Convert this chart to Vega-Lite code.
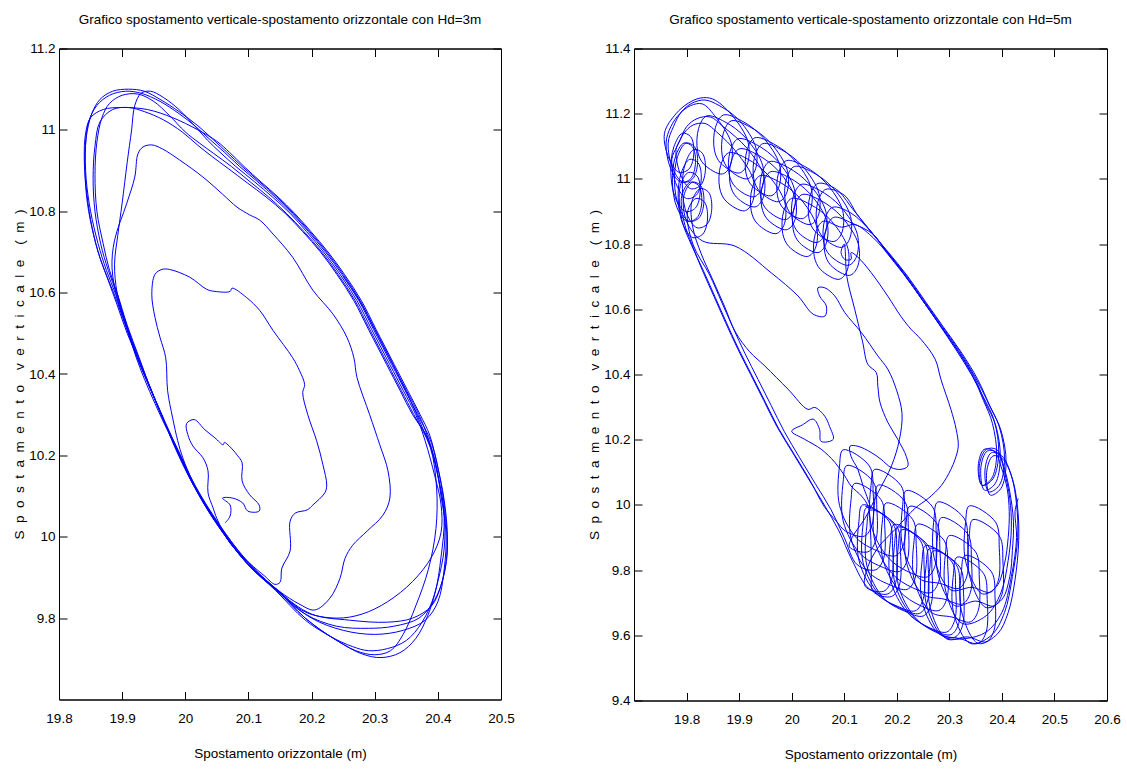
{
  "$schema": "https://vega.github.io/schema/vega-lite/v6.json",
  "background": "white",
  "padding": {"left": 12, "top": 12.5, "right": 0, "bottom": 0},
  "spacing": 133,
  "bounds": "flush",
  "config": {
    "view": {"stroke": "black", "strokeWidth": 1},
    "font": "Liberation Sans, Arial, sans-serif",
    "axis": {
      "domainColor": "black", "tickColor": "black", "labelColor": "black", "titleColor": "black",
      "labelFont": "Liberation Sans, Arial, sans-serif",
      "titleFont": "Liberation Sans, Arial, sans-serif",
      "labelFontSize": 13.5, "titleFontSize": 13.5, "titleFontWeight": "normal",
      "grid": false, "tickSize": -8, "labelFlush": false, "labelOverlap": false
    },
    "title": {"font": "Liberation Sans, Arial, sans-serif", "fontSize": 13.5, "fontWeight": "normal", "color": "black", "offset": 15}
  },
  "datasets": {
    "hd3": [
      {"x":20.063,"y":10.034},{"x":20.071,"y":10.051},{"x":20.071,"y":10.078},{"x":20.059,"y":10.095},{"x":20.075,"y":10.095},{"x":20.091,"y":10.083},{"x":20.099,"y":10.063},{"x":20.117,"y":10.063},{"x":20.117,"y":10.078},{"x":20.102,"y":10.103},{"x":20.090,"y":10.137},{"x":20.090,"y":10.182},{"x":20.083,"y":10.199},{"x":20.074,"y":10.216},{"x":20.066,"y":10.228},{"x":20.062,"y":10.232},{"x":20.060,"y":10.226},{"x":20.047,"y":10.243},{"x":20.031,"y":10.263},{"x":20.014,"y":10.288},{"x":20.002,"y":10.278},{"x":20.004,"y":10.251},{"x":20.012,"y":10.223},{"x":20.028,"y":10.194},{"x":20.036,"y":10.162},{"x":20.036,"y":10.108},{"x":20.044,"y":10.071},{"x":20.050,"y":10.045},
      {"x":20.071,"y":9.984},{"x":20.102,"y":9.935},{"x":20.126,"y":9.903},{"x":20.142,"y":9.883},{"x":20.150,"y":9.888},
      {"x":20.153,"y":9.923},{"x":20.166,"y":9.965},{"x":20.166,"y":10.038},{"x":20.174,"y":10.058},{"x":20.193,"y":10.066},{"x":20.202,"y":10.078},{"x":20.221,"y":10.108},{"x":20.224,"y":10.127},{"x":20.218,"y":10.177},{"x":20.208,"y":10.236},{"x":20.194,"y":10.300},{"x":20.186,"y":10.354},{"x":20.189,"y":10.374},{"x":20.181,"y":10.408},{"x":20.170,"y":10.440},{"x":20.139,"y":10.507},{"x":20.118,"y":10.556},{"x":20.097,"y":10.588},{"x":20.074,"y":10.611},{"x":20.071,"y":10.603},{"x":20.047,"y":10.603},{"x":20.034,"y":10.608},{"x":20.007,"y":10.638},{"x":19.975,"y":10.657},{"x":19.963,"y":10.657},{"x":19.952,"y":10.645},{"x":19.947,"y":10.596},{"x":19.952,"y":10.539},{"x":19.960,"y":10.490},{"x":19.969,"y":10.440},{"x":19.972,"y":10.359},{"x":19.980,"y":10.292},{"x":19.988,"y":10.236},{"x":19.996,"y":10.194},
      {"x":20.012,"y":10.135},{"x":20.035,"y":10.070},{"x":20.060,"y":10.015},{"x":20.090,"y":9.955},{"x":20.120,"y":9.905},{"x":20.150,"y":9.865},{"x":20.180,"y":9.835},{"x":20.205,"y":9.820},
      {"x":20.229,"y":9.849},{"x":20.245,"y":9.898},{"x":20.253,"y":9.947},{"x":20.265,"y":9.979},{"x":20.288,"y":10.014},{"x":20.313,"y":10.053},{"x":20.324,"y":10.095},{"x":20.321,"y":10.162},{"x":20.308,"y":10.226},{"x":20.292,"y":10.300},{"x":20.272,"y":10.391},{"x":20.267,"y":10.440},{"x":20.256,"y":10.490},{"x":20.234,"y":10.547},{"x":20.202,"y":10.606},{"x":20.170,"y":10.687},{"x":20.139,"y":10.744},{"x":20.118,"y":10.778},{"x":20.102,"y":10.791},{"x":20.082,"y":10.810},{"x":20.059,"y":10.842},{"x":20.028,"y":10.884},{"x":19.991,"y":10.926},{"x":19.964,"y":10.953},{"x":19.947,"y":10.963},{"x":19.933,"y":10.958},{"x":19.925,"y":10.941},{"x":19.920,"y":10.884},{"x":19.907,"y":10.818},{"x":19.888,"y":10.729},{"x":19.884,"y":10.660},{"x":19.893,"y":10.580},{"x":19.907,"y":10.514},{"x":19.928,"y":10.416},{"x":19.960,"y":10.300},
      {"x":19.985,"y":10.22},{"x":20.012,"y":10.13},{"x":20.05,"y":10.035},{"x":20.098,"y":9.935},{"x":20.145,"y":9.87},
      {"x":20.19,"y":9.80},{"x":20.24,"y":9.745},{"x":20.28,"y":9.712},{"x":20.31,"y":9.703},{"x":20.34,"y":9.715},{"x":20.365,"y":9.75},{"x":20.385,"y":9.81},{"x":20.40,"y":9.89},{"x":20.41,"y":9.97},{"x":20.41,"y":10.06},{"x":20.40,"y":10.15},{"x":20.385,"y":10.24},
      {"x":20.37,"y":10.30},{"x":20.35,"y":10.36},{"x":20.329,"y":10.423},{"x":20.30,"y":10.51},{"x":20.277,"y":10.58},{"x":20.25,"y":10.645},{"x":20.224,"y":10.70},{"x":20.197,"y":10.75},{"x":20.171,"y":10.795},{"x":20.145,"y":10.835},{"x":20.118,"y":10.872},{"x":20.09,"y":10.91},{"x":20.066,"y":10.945},{"x":20.045,"y":10.975},
      {"x":20.02,"y":11.01},{"x":19.99,"y":11.045},{"x":19.96,"y":11.075},{"x":19.935,"y":11.095},{"x":19.91,"y":11.10},{"x":19.885,"y":11.095},{"x":19.865,"y":11.075},{"x":19.852,"y":11.04},{"x":19.843,"y":10.98},{"x":19.841,"y":10.90},{"x":19.845,"y":10.82},{"x":19.855,"y":10.74},{"x":19.866,"y":10.68},
      {"x":19.878,"y":10.63},{"x":19.892,"y":10.57},{"x":19.908,"y":10.50},{"x":19.927,"y":10.43},{"x":19.945,"y":10.365},{"x":19.962,"y":10.30},
      {"x":19.988,"y":10.215},{"x":20.016,"y":10.125},{"x":20.054,"y":10.03},{"x":20.10,"y":9.935},{"x":20.147,"y":9.868},
      {"x":20.19,"y":9.815},{"x":20.24,"y":9.80},{"x":20.28,"y":9.81},{"x":20.32,"y":9.84},{"x":20.36,"y":9.89},{"x":20.39,"y":9.95},{"x":20.405,"y":10.01},{"x":20.405,"y":10.08},{"x":20.395,"y":10.15},{"x":20.38,"y":10.235},
      {"x":20.365,"y":10.30},{"x":20.345,"y":10.36},{"x":20.324,"y":10.423},{"x":20.295,"y":10.51},{"x":20.272,"y":10.58},{"x":20.245,"y":10.645},{"x":20.219,"y":10.70},{"x":20.192,"y":10.75},{"x":20.166,"y":10.795},{"x":20.138,"y":10.835},{"x":20.11,"y":10.872},{"x":20.08,"y":10.91},{"x":20.055,"y":10.945},{"x":20.035,"y":10.975},
      {"x":20.012,"y":11.015},{"x":19.99,"y":11.05},{"x":19.965,"y":11.08},{"x":19.945,"y":11.095},{"x":19.93,"y":11.09},{"x":19.92,"y":11.06},{"x":19.915,"y":11.0},{"x":19.908,"y":10.92},{"x":19.9,"y":10.82},{"x":19.893,"y":10.74},{"x":19.888,"y":10.67},
      {"x":19.892,"y":10.60},{"x":19.905,"y":10.53},{"x":19.922,"y":10.45},{"x":19.94,"y":10.38},{"x":19.96,"y":10.31},
      {"x":19.982,"y":10.225},{"x":20.01,"y":10.135},{"x":20.046,"y":10.04},{"x":20.095,"y":9.94},{"x":20.142,"y":9.872},
      {"x":20.19,"y":9.81},{"x":20.24,"y":9.78},{"x":20.29,"y":9.775},{"x":20.33,"y":9.78},{"x":20.37,"y":9.80},{"x":20.395,"y":9.845},{"x":20.41,"y":9.91},{"x":20.415,"y":10.0},{"x":20.41,"y":10.09},{"x":20.40,"y":10.17},{"x":20.387,"y":10.25},
      {"x":20.372,"y":10.30},{"x":20.352,"y":10.36},{"x":20.331,"y":10.423},{"x":20.302,"y":10.51},{"x":20.279,"y":10.58},{"x":20.252,"y":10.645},{"x":20.226,"y":10.70},{"x":20.199,"y":10.75},{"x":20.173,"y":10.795},{"x":20.147,"y":10.835},{"x":20.12,"y":10.872},{"x":20.093,"y":10.91},{"x":20.07,"y":10.945},{"x":20.05,"y":10.972},
      {"x":20.02,"y":11.00},{"x":19.98,"y":11.03},{"x":19.94,"y":11.05},{"x":19.90,"y":11.055},{"x":19.87,"y":11.05},{"x":19.85,"y":11.03},{"x":19.842,"y":10.99},{"x":19.84,"y":10.93},{"x":19.843,"y":10.86},{"x":19.85,"y":10.78},{"x":19.862,"y":10.70},
      {"x":19.876,"y":10.64},{"x":19.889,"y":10.59},{"x":19.905,"y":10.52},{"x":19.925,"y":10.435},{"x":19.945,"y":10.362},{"x":19.962,"y":10.30},
      {"x":19.984,"y":10.222},{"x":20.013,"y":10.13},{"x":20.05,"y":10.033},{"x":20.097,"y":9.935},{"x":20.143,"y":9.868},
      {"x":20.19,"y":9.795},{"x":20.235,"y":9.75},{"x":20.27,"y":9.72},{"x":20.30,"y":9.71},{"x":20.325,"y":9.72},{"x":20.345,"y":9.76},{"x":20.365,"y":9.83},{"x":20.385,"y":9.92},{"x":20.397,"y":10.02},{"x":20.398,"y":10.12},{"x":20.388,"y":10.22},
      {"x":20.362,"y":10.30},{"x":20.342,"y":10.36},{"x":20.321,"y":10.423},{"x":20.292,"y":10.51},{"x":20.269,"y":10.58},{"x":20.242,"y":10.645},{"x":20.216,"y":10.70},{"x":20.188,"y":10.75},{"x":20.16,"y":10.795},{"x":20.132,"y":10.835},{"x":20.103,"y":10.872},{"x":20.073,"y":10.91},{"x":20.045,"y":10.942},{"x":20.022,"y":10.968},
      {"x":20.0,"y":10.995},{"x":19.975,"y":11.035},{"x":19.95,"y":11.07},{"x":19.925,"y":11.088},{"x":19.90,"y":11.085},{"x":19.88,"y":11.065},{"x":19.868,"y":11.03},{"x":19.86,"y":10.97},{"x":19.857,"y":10.89},{"x":19.86,"y":10.80},{"x":19.87,"y":10.72},
      {"x":19.88,"y":10.655},{"x":19.893,"y":10.595},{"x":19.908,"y":10.52},{"x":19.927,"y":10.44},{"x":19.946,"y":10.36},{"x":19.963,"y":10.30},
      {"x":19.986,"y":10.22},{"x":20.014,"y":10.128},{"x":20.052,"y":10.032},{"x":20.099,"y":9.934},{"x":20.146,"y":9.867},
      {"x":20.20,"y":9.81},{"x":20.26,"y":9.795},{"x":20.32,"y":9.79},{"x":20.36,"y":9.80},{"x":20.39,"y":9.83},{"x":20.405,"y":9.88},{"x":20.415,"y":9.96},{"x":20.412,"y":10.05},{"x":20.405,"y":10.13},{"x":20.39,"y":10.23},
      {"x":20.368,"y":10.30},{"x":20.348,"y":10.36},{"x":20.327,"y":10.423},{"x":20.298,"y":10.51},{"x":20.275,"y":10.58},{"x":20.248,"y":10.645},{"x":20.222,"y":10.70},{"x":20.195,"y":10.75},{"x":20.169,"y":10.795},{"x":20.142,"y":10.835},{"x":20.115,"y":10.872},{"x":20.086,"y":10.91},{"x":20.062,"y":10.945},{"x":20.04,"y":10.975},
      {"x":20.015,"y":11.01},{"x":19.99,"y":11.04},{"x":19.96,"y":11.07},{"x":19.93,"y":11.09},{"x":19.905,"y":11.095},{"x":19.88,"y":11.085},{"x":19.86,"y":11.06},{"x":19.847,"y":11.02},{"x":19.842,"y":10.96},{"x":19.843,"y":10.88},{"x":19.85,"y":10.80},{"x":19.862,"y":10.72},
      {"x":19.875,"y":10.655},{"x":19.89,"y":10.595},{"x":19.906,"y":10.52},{"x":19.926,"y":10.435},{"x":19.946,"y":10.36},{"x":19.962,"y":10.30},
      {"x":19.983,"y":10.225},{"x":20.011,"y":10.133},{"x":20.048,"y":10.036},{"x":20.096,"y":9.938},{"x":20.144,"y":9.87},
      {"x":20.19,"y":9.80},{"x":20.23,"y":9.755},{"x":20.265,"y":9.73},{"x":20.29,"y":9.72},{"x":20.32,"y":9.725},{"x":20.35,"y":9.745},{"x":20.375,"y":9.79},{"x":20.395,"y":9.86},{"x":20.405,"y":9.95},{"x":20.41,"y":10.05},{"x":20.40,"y":10.15},{"x":20.385,"y":10.24},
      {"x":20.36,"y":10.30},{"x":20.34,"y":10.36},{"x":20.319,"y":10.423},{"x":20.29,"y":10.51},{"x":20.267,"y":10.58},{"x":20.24,"y":10.645},{"x":20.214,"y":10.70},{"x":20.186,"y":10.75},{"x":20.158,"y":10.795},{"x":20.128,"y":10.835},{"x":20.098,"y":10.87},{"x":20.068,"y":10.905},{"x":20.042,"y":10.935},{"x":20.02,"y":10.962},
      {"x":19.995,"y":10.995},{"x":19.965,"y":11.025},{"x":19.935,"y":11.045},{"x":19.91,"y":11.055},{"x":19.885,"y":11.05},{"x":19.865,"y":11.02},{"x":19.857,"y":10.96},{"x":19.854,"y":10.88},{"x":19.857,"y":10.80},{"x":19.866,"y":10.72},
      {"x":19.878,"y":10.655},{"x":19.892,"y":10.595},{"x":19.907,"y":10.52},{"x":19.926,"y":10.44},{"x":19.945,"y":10.365},{"x":19.962,"y":10.30},
      {"x":19.985,"y":10.22},{"x":20.013,"y":10.128},{"x":20.051,"y":10.03},{"x":20.099,"y":9.932},{"x":20.147,"y":9.865},
      {"x":20.2,"y":9.80},{"x":20.25,"y":9.77},{"x":20.30,"y":9.76},{"x":20.345,"y":9.77},{"x":20.38,"y":9.795},{"x":20.40,"y":9.84},{"x":20.41,"y":9.92},{"x":20.413,"y":10.01},{"x":20.405,"y":10.10},{"x":20.395,"y":10.19},
      {"x":20.375,"y":10.27},{"x":20.355,"y":10.34},{"x":20.33,"y":10.42},{"x":20.30,"y":10.51},{"x":20.278,"y":10.575},{"x":20.25,"y":10.64}
    ],
    "hd5": [
      {"x":20.140,"y":9.996},{"x":20.149,"y":9.993},{"x":20.145,"y":10.017},{"x":20.136,"y":10.057},{"x":20.126,"y":10.109},{"x":20.113,"y":10.149},{"x":20.111,"y":10.180},{"x":20.126,"y":10.180},{"x":20.151,"y":10.161},{"x":20.170,"y":10.140},{"x":20.189,"y":10.115},{"x":20.208,"y":10.109},{"x":20.221,"y":10.119},{"x":20.218,"y":10.149},{"x":20.202,"y":10.201},{"x":20.183,"y":10.253},{"x":20.168,"y":10.315},{"x":20.164,"y":10.364},{"x":20.161,"y":10.406},{"x":20.145,"y":10.431},
      {"x":20.135,"y":10.50},{"x":20.12,"y":10.60},{"x":20.105,"y":10.70},{"x":20.10,"y":10.80},
      {"x":20.094,"y":10.774},{"x":20.101,"y":10.753},{"x":20.113,"y":10.753},{"x":20.113,"y":10.774},{"x":20.126,"y":10.76},{"x":20.151,"y":10.713},{"x":20.183,"y":10.64},{"x":20.208,"y":10.578},{"x":20.227,"y":10.539},{"x":20.246,"y":10.508},{"x":20.273,"y":10.447},{"x":20.284,"y":10.385},{"x":20.303,"y":10.293},{"x":20.313,"y":10.232},{"x":20.317,"y":10.18},{"x":20.311,"y":10.14},{"x":20.303,"y":10.109},{"x":20.285,"y":10.06},{"x":20.26,"y":10.02},{"x":20.235,"y":9.99},{"x":20.20,"y":9.93},{"x":20.165,"y":9.87},{"x":20.145,"y":9.81},

      {"x":20.140,"y":9.750},{"x":20.175,"y":9.735},{"x":20.190,"y":9.770},{"x":20.192,"y":9.870},{"x":20.185,"y":9.950},{"x":20.135,"y":10.000},{"x":20.128,"y":9.950},{"x":20.128,"y":9.830},{"x":20.160,"y":9.730},
      {"x":20.200,"y":9.690},{"x":20.235,"y":9.675},{"x":20.250,"y":9.710},{"x":20.252,"y":9.810},{"x":20.245,"y":9.890},{"x":20.195,"y":9.940},{"x":20.188,"y":9.890},{"x":20.188,"y":9.770},{"x":20.220,"y":9.670},
      {"x":20.260,"y":9.625},{"x":20.295,"y":9.610},{"x":20.310,"y":9.645},{"x":20.312,"y":9.745},{"x":20.305,"y":9.825},{"x":20.255,"y":9.875},{"x":20.248,"y":9.825},{"x":20.248,"y":9.705},{"x":20.280,"y":9.605},
      {"x":20.320,"y":9.590},{"x":20.355,"y":9.575},{"x":20.370,"y":9.610},{"x":20.372,"y":9.710},{"x":20.365,"y":9.790},{"x":20.315,"y":9.840},{"x":20.308,"y":9.790},{"x":20.308,"y":9.670},{"x":20.340,"y":9.575},
      {"x":20.38,"y":9.60},{"x":20.405,"y":9.67},{"x":20.42,"y":9.78},{"x":20.43,"y":9.90},{"x":20.428,"y":10.0},{"x":20.418,"y":10.09},{"x":20.40,"y":10.15},{"x":20.38,"y":10.16},{"x":20.368,"y":10.11},{"x":20.375,"y":10.04},{"x":20.395,"y":10.06},{"x":20.405,"y":10.14},{"x":20.395,"y":10.24},{"x":20.375,"y":10.31},
      {"x":20.35,"y":10.39},{"x":20.32,"y":10.47},{"x":20.285,"y":10.55},{"x":20.25,"y":10.63},{"x":20.215,"y":10.71},{"x":20.18,"y":10.78},{"x":20.15,"y":10.84},{"x":20.125,"y":10.89},
      {"x":20.100,"y":10.950},{"x":20.065,"y":10.968},{"x":20.050,"y":10.930},{"x":20.048,"y":10.860},{"x":20.060,"y":10.820},{"x":20.095,"y":10.790},{"x":20.110,"y":10.815},{"x":20.112,"y":10.885},{"x":20.080,"y":10.970},
      {"x":20.040,"y":11.020},{"x":20.005,"y":11.038},{"x":19.990,"y":11.000},{"x":19.988,"y":10.930},{"x":20.000,"y":10.890},{"x":20.035,"y":10.860},{"x":20.050,"y":10.885},{"x":20.052,"y":10.955},{"x":20.020,"y":11.040},
      {"x":19.980,"y":11.090},{"x":19.945,"y":11.108},{"x":19.930,"y":11.070},{"x":19.928,"y":11.000},{"x":19.940,"y":10.960},{"x":19.975,"y":10.930},{"x":19.990,"y":10.955},{"x":19.992,"y":11.025},{"x":19.960,"y":11.110},
      {"x":19.920,"y":11.160},{"x":19.885,"y":11.178},{"x":19.870,"y":11.140},{"x":19.868,"y":11.070},{"x":19.880,"y":11.030},{"x":19.915,"y":11.000},{"x":19.930,"y":11.025},{"x":19.932,"y":11.095},{"x":19.900,"y":11.180},
      {"x":19.862,"y":11.225},{"x":19.835,"y":11.242},{"x":19.81,"y":11.232},{"x":19.79,"y":11.205},{"x":19.775,"y":11.16},
      {"x":19.765,"y":11.11},{"x":19.774,"y":11.031},{"x":19.793,"y":10.99},{"x":19.812,"y":11.001},{"x":19.821,"y":11.05},{"x":19.815,"y":11.099},{"x":19.799,"y":11.11},{"x":19.783,"y":11.069},
      {"x":19.777,"y":10.99},{"x":19.786,"y":10.911},{"x":19.805,"y":10.87},{"x":19.824,"y":10.881},{"x":19.833,"y":10.93},{"x":19.827,"y":10.979},{"x":19.811,"y":10.99},{"x":19.795,"y":10.949},
      {"x":19.80,"y":10.87},{"x":19.83,"y":10.81},{"x":19.892,"y":10.794},{"x":19.961,"y":10.712},{"x":20.012,"y":10.641},{"x":20.041,"y":10.585},{"x":20.063,"y":10.579},{"x":20.066,"y":10.61},{"x":20.053,"y":10.641},{"x":20.05,"y":10.666},{"x":20.063,"y":10.666},{"x":20.082,"y":10.641},{"x":20.101,"y":10.59},{"x":20.133,"y":10.528},{"x":20.164,"y":10.457},{"x":20.183,"y":10.416},{"x":20.20,"y":10.35},{"x":20.21,"y":10.28},{"x":20.205,"y":10.20},{"x":20.19,"y":10.12},{"x":20.165,"y":10.04},{"x":20.14,"y":9.96},{"x":20.115,"y":9.90},

      {"x":20.110,"y":9.871},{"x":20.145,"y":9.856},{"x":20.160,"y":9.891},{"x":20.162,"y":9.991},{"x":20.155,"y":10.071},{"x":20.105,"y":10.121},{"x":20.098,"y":10.071},{"x":20.098,"y":9.951},{"x":20.130,"y":9.851},
      {"x":20.170,"y":9.811},{"x":20.205,"y":9.796},{"x":20.220,"y":9.831},{"x":20.222,"y":9.931},{"x":20.215,"y":10.011},{"x":20.165,"y":10.061},{"x":20.158,"y":10.011},{"x":20.158,"y":9.891},{"x":20.190,"y":9.791},
      {"x":20.230,"y":9.746},{"x":20.265,"y":9.731},{"x":20.280,"y":9.766},{"x":20.282,"y":9.866},{"x":20.275,"y":9.946},{"x":20.225,"y":9.996},{"x":20.218,"y":9.946},{"x":20.218,"y":9.826},{"x":20.250,"y":9.726},
      {"x":20.290,"y":9.711},{"x":20.325,"y":9.696},{"x":20.340,"y":9.731},{"x":20.342,"y":9.831},{"x":20.335,"y":9.911},{"x":20.285,"y":9.961},{"x":20.278,"y":9.911},{"x":20.278,"y":9.791},{"x":20.310,"y":9.691},
      {"x":20.350,"y":9.705},{"x":20.385,"y":9.690},{"x":20.400,"y":9.725},{"x":20.402,"y":9.825},{"x":20.395,"y":9.905},{"x":20.345,"y":9.955},{"x":20.338,"y":9.905},{"x":20.338,"y":9.785},{"x":20.370,"y":9.685},
      {"x":20.40,"y":9.71},{"x":20.415,"y":9.78},{"x":20.42,"y":9.86},{"x":20.422,"y":9.95},{"x":20.415,"y":10.04},{"x":20.405,"y":10.11},{"x":20.39,"y":10.17},{"x":20.37,"y":10.17},{"x":20.357,"y":10.12},{"x":20.363,"y":10.06},{"x":20.383,"y":10.08},{"x":20.394,"y":10.16},{"x":20.385,"y":10.26},{"x":20.365,"y":10.33},
      {"x":20.342,"y":10.40},{"x":20.313,"y":10.475},{"x":20.28,"y":10.555},{"x":20.246,"y":10.635},{"x":20.212,"y":10.71},{"x":20.18,"y":10.775},{"x":20.155,"y":10.83},
      {"x":20.115,"y":10.864},{"x":20.080,"y":10.882},{"x":20.065,"y":10.844},{"x":20.063,"y":10.774},{"x":20.075,"y":10.734},{"x":20.110,"y":10.704},{"x":20.125,"y":10.729},{"x":20.127,"y":10.799},{"x":20.095,"y":10.884},
      {"x":20.055,"y":10.934},{"x":20.020,"y":10.952},{"x":20.005,"y":10.914},{"x":20.003,"y":10.844},{"x":20.015,"y":10.804},{"x":20.050,"y":10.774},{"x":20.065,"y":10.799},{"x":20.067,"y":10.869},{"x":20.035,"y":10.954},
      {"x":19.995,"y":11.004},{"x":19.960,"y":11.022},{"x":19.945,"y":10.984},{"x":19.943,"y":10.914},{"x":19.955,"y":10.874},{"x":19.990,"y":10.844},{"x":20.005,"y":10.869},{"x":20.007,"y":10.939},{"x":19.975,"y":11.024},
      {"x":19.935,"y":11.074},{"x":19.900,"y":11.092},{"x":19.885,"y":11.054},{"x":19.883,"y":10.984},{"x":19.895,"y":10.944},{"x":19.930,"y":10.914},{"x":19.945,"y":10.939},{"x":19.947,"y":11.009},{"x":19.915,"y":11.094},
      {"x":19.87,"y":11.16},{"x":19.845,"y":11.19},{"x":19.82,"y":11.185},{"x":19.80,"y":11.16},{"x":19.788,"y":11.12},
      {"x":19.78,"y":11.09},{"x":19.789,"y":11.011},{"x":19.808,"y":10.97},{"x":19.827,"y":10.981},{"x":19.836,"y":11.03},{"x":19.83,"y":11.079},{"x":19.814,"y":11.09},{"x":19.798,"y":11.049},
      {"x":19.792,"y":10.97},{"x":19.801,"y":10.891},{"x":19.82,"y":10.85},{"x":19.839,"y":10.861},{"x":19.848,"y":10.91},{"x":19.842,"y":10.959},{"x":19.826,"y":10.97},{"x":19.81,"y":10.929},
      {"x":19.812,"y":10.85},{"x":19.828,"y":10.77},{"x":19.85,"y":10.69},{"x":19.872,"y":10.61},{"x":19.893,"y":10.53},
      {"x":19.92,"y":10.47},{"x":19.949,"y":10.426},{"x":19.993,"y":10.355},{"x":20.031,"y":10.293},{"x":20.044,"y":10.299},{"x":20.063,"y":10.272},{"x":20.072,"y":10.241},{"x":20.079,"y":10.201},{"x":20.056,"y":10.195},{"x":20.053,"y":10.232},{"x":20.041,"y":10.263},{"x":20.02,"y":10.245},{"x":20.0,"y":10.226},{"x":20.025,"y":10.201},{"x":20.056,"y":10.171},{"x":20.082,"y":10.131},{"x":20.101,"y":10.089},{"x":20.113,"y":10.058},{"x":20.133,"y":10.027},{"x":20.145,"y":9.997},{"x":20.15,"y":9.92},{"x":20.152,"y":9.80},

      {"x":20.155,"y":9.734},{"x":20.190,"y":9.719},{"x":20.205,"y":9.754},{"x":20.207,"y":9.854},{"x":20.200,"y":9.934},{"x":20.150,"y":9.984},{"x":20.143,"y":9.934},{"x":20.143,"y":9.814},{"x":20.175,"y":9.714},
      {"x":20.215,"y":9.674},{"x":20.250,"y":9.659},{"x":20.265,"y":9.694},{"x":20.267,"y":9.794},{"x":20.260,"y":9.874},{"x":20.210,"y":9.924},{"x":20.203,"y":9.874},{"x":20.203,"y":9.754},{"x":20.235,"y":9.654},
      {"x":20.275,"y":9.609},{"x":20.310,"y":9.594},{"x":20.325,"y":9.629},{"x":20.327,"y":9.729},{"x":20.320,"y":9.809},{"x":20.270,"y":9.859},{"x":20.263,"y":9.809},{"x":20.263,"y":9.689},{"x":20.295,"y":9.589},
      {"x":20.335,"y":9.595},{"x":20.370,"y":9.580},{"x":20.385,"y":9.615},{"x":20.387,"y":9.715},{"x":20.380,"y":9.795},{"x":20.330,"y":9.845},{"x":20.323,"y":9.795},{"x":20.323,"y":9.675},{"x":20.355,"y":9.575},
      {"x":20.392,"y":9.605},{"x":20.412,"y":9.67},{"x":20.425,"y":9.77},{"x":20.432,"y":9.89},{"x":20.43,"y":9.99},{"x":20.42,"y":10.08},{"x":20.402,"y":10.14},{"x":20.383,"y":10.15},{"x":20.371,"y":10.10},{"x":20.378,"y":10.03},{"x":20.398,"y":10.05},{"x":20.408,"y":10.13},{"x":20.398,"y":10.23},{"x":20.378,"y":10.30},
      {"x":20.354,"y":10.385},{"x":20.324,"y":10.465},{"x":20.289,"y":10.545},{"x":20.254,"y":10.625},{"x":20.219,"y":10.705},{"x":20.184,"y":10.775},{"x":20.15,"y":10.84},{"x":20.115,"y":10.91},
      {"x":20.085,"y":10.968},{"x":20.050,"y":10.986},{"x":20.035,"y":10.948},{"x":20.033,"y":10.878},{"x":20.045,"y":10.838},{"x":20.080,"y":10.808},{"x":20.095,"y":10.833},{"x":20.097,"y":10.903},{"x":20.065,"y":10.988},
      {"x":20.025,"y":11.038},{"x":19.990,"y":11.056},{"x":19.975,"y":11.018},{"x":19.973,"y":10.948},{"x":19.985,"y":10.908},{"x":20.020,"y":10.878},{"x":20.035,"y":10.903},{"x":20.037,"y":10.973},{"x":20.005,"y":11.058},
      {"x":19.965,"y":11.108},{"x":19.930,"y":11.126},{"x":19.915,"y":11.088},{"x":19.913,"y":11.018},{"x":19.925,"y":10.978},{"x":19.960,"y":10.948},{"x":19.975,"y":10.973},{"x":19.977,"y":11.043},{"x":19.945,"y":11.128},
      {"x":19.905,"y":11.178},{"x":19.870,"y":11.196},{"x":19.855,"y":11.158},{"x":19.853,"y":11.088},{"x":19.865,"y":11.048},{"x":19.900,"y":11.018},{"x":19.915,"y":11.043},{"x":19.917,"y":11.113},{"x":19.885,"y":11.198},
      {"x":19.85,"y":11.245},{"x":19.826,"y":11.248},{"x":19.803,"y":11.232},{"x":19.78,"y":11.2},
      {"x":19.758,"y":11.14},{"x":19.767,"y":11.061},{"x":19.786,"y":11.02},{"x":19.805,"y":11.031},{"x":19.814,"y":11.08},{"x":19.808,"y":11.129},{"x":19.792,"y":11.14},{"x":19.776,"y":11.099},
      {"x":19.77,"y":11.02},{"x":19.779,"y":10.941},{"x":19.798,"y":10.90},{"x":19.817,"y":10.911},{"x":19.826,"y":10.96},{"x":19.82,"y":11.009},{"x":19.804,"y":11.02},{"x":19.788,"y":10.979},
      {"x":19.791,"y":10.875},{"x":19.81,"y":10.795},{"x":19.833,"y":10.715},{"x":19.855,"y":10.635},{"x":19.877,"y":10.555},{"x":19.9,"y":10.475},{"x":19.925,"y":10.395},{"x":19.95,"y":10.315},{"x":19.975,"y":10.235},{"x":20.005,"y":10.155},{"x":20.035,"y":10.075},{"x":20.062,"y":9.995},{"x":20.085,"y":9.95},

      {"x":20.103,"y":9.919},{"x":20.138,"y":9.904},{"x":20.153,"y":9.939},{"x":20.155,"y":10.039},{"x":20.148,"y":10.119},{"x":20.098,"y":10.169},{"x":20.091,"y":10.119},{"x":20.091,"y":9.999},{"x":20.123,"y":9.899},
      {"x":20.163,"y":9.859},{"x":20.198,"y":9.844},{"x":20.213,"y":9.879},{"x":20.215,"y":9.979},{"x":20.208,"y":10.059},{"x":20.158,"y":10.109},{"x":20.151,"y":10.059},{"x":20.151,"y":9.939},{"x":20.183,"y":9.839},
      {"x":20.223,"y":9.794},{"x":20.258,"y":9.779},{"x":20.273,"y":9.814},{"x":20.275,"y":9.914},{"x":20.268,"y":9.994},{"x":20.218,"y":10.044},{"x":20.211,"y":9.994},{"x":20.211,"y":9.874},{"x":20.243,"y":9.774},
      {"x":20.283,"y":9.759},{"x":20.318,"y":9.744},{"x":20.333,"y":9.779},{"x":20.335,"y":9.879},{"x":20.328,"y":9.959},{"x":20.278,"y":10.009},{"x":20.271,"y":9.959},{"x":20.271,"y":9.839},{"x":20.303,"y":9.739},
      {"x":20.343,"y":9.747},{"x":20.378,"y":9.732},{"x":20.393,"y":9.767},{"x":20.395,"y":9.867},{"x":20.388,"y":9.947},{"x":20.338,"y":9.997},{"x":20.331,"y":9.947},{"x":20.331,"y":9.827},{"x":20.363,"y":9.727},
      {"x":20.39,"y":9.75},{"x":20.405,"y":9.82},{"x":20.412,"y":9.90},{"x":20.414,"y":9.98},{"x":20.41,"y":10.05},{"x":20.40,"y":10.11},{"x":20.385,"y":10.165},{"x":20.366,"y":10.17},{"x":20.355,"y":10.12},{"x":20.362,"y":10.06},{"x":20.38,"y":10.08},{"x":20.39,"y":10.15},{"x":20.382,"y":10.25},{"x":20.365,"y":10.32},
      {"x":20.346,"y":10.39},{"x":20.317,"y":10.47},{"x":20.283,"y":10.55},{"x":20.248,"y":10.63},{"x":20.213,"y":10.71},{"x":20.178,"y":10.78},{"x":20.148,"y":10.83},{"x":20.12,"y":10.86},
      {"x":20.095,"y":10.852},{"x":20.060,"y":10.870},{"x":20.045,"y":10.832},{"x":20.043,"y":10.762},{"x":20.055,"y":10.722},{"x":20.090,"y":10.692},{"x":20.105,"y":10.717},{"x":20.107,"y":10.787},{"x":20.075,"y":10.872},
      {"x":20.035,"y":10.922},{"x":20.000,"y":10.940},{"x":19.985,"y":10.902},{"x":19.983,"y":10.832},{"x":19.995,"y":10.792},{"x":20.030,"y":10.762},{"x":20.045,"y":10.787},{"x":20.047,"y":10.857},{"x":20.015,"y":10.942},
      {"x":19.975,"y":10.992},{"x":19.940,"y":11.010},{"x":19.925,"y":10.972},{"x":19.923,"y":10.902},{"x":19.935,"y":10.862},{"x":19.970,"y":10.832},{"x":19.985,"y":10.857},{"x":19.987,"y":10.927},{"x":19.955,"y":11.012},
      {"x":19.915,"y":11.062},{"x":19.880,"y":11.080},{"x":19.865,"y":11.042},{"x":19.863,"y":10.972},{"x":19.875,"y":10.932},{"x":19.910,"y":10.902},{"x":19.925,"y":10.927},{"x":19.927,"y":10.997},{"x":19.895,"y":11.082},
      {"x":19.86,"y":11.14},{"x":19.835,"y":11.17},{"x":19.812,"y":11.165},{"x":19.795,"y":11.14},{"x":19.782,"y":11.10},
      {"x":19.772,"y":11.06},{"x":19.781,"y":10.981},{"x":19.80,"y":10.94},{"x":19.819,"y":10.951},{"x":19.828,"y":11.0},{"x":19.822,"y":11.049},{"x":19.806,"y":11.06},{"x":19.79,"y":11.019},
      {"x":19.784,"y":10.94},{"x":19.793,"y":10.861},{"x":19.812,"y":10.82},{"x":19.831,"y":10.831},{"x":19.84,"y":10.88},{"x":19.834,"y":10.929},{"x":19.818,"y":10.94},{"x":19.802,"y":10.899},
      {"x":19.812,"y":10.80},{"x":19.844,"y":10.705},{"x":19.866,"y":10.625},{"x":19.888,"y":10.545},{"x":19.911,"y":10.465},{"x":19.936,"y":10.385},{"x":19.961,"y":10.305},{"x":19.986,"y":10.225},{"x":20.015,"y":10.145},{"x":20.045,"y":10.065},{"x":20.075,"y":9.985},{"x":20.10,"y":9.90},

      {"x":20.125,"y":9.816},{"x":20.160,"y":9.801},{"x":20.175,"y":9.836},{"x":20.177,"y":9.936},{"x":20.170,"y":10.016},{"x":20.120,"y":10.066},{"x":20.113,"y":10.016},{"x":20.113,"y":9.896},{"x":20.145,"y":9.796},
      {"x":20.185,"y":9.756},{"x":20.220,"y":9.741},{"x":20.235,"y":9.776},{"x":20.237,"y":9.876},{"x":20.230,"y":9.956},{"x":20.180,"y":10.006},{"x":20.173,"y":9.956},{"x":20.173,"y":9.836},{"x":20.205,"y":9.736},
      {"x":20.245,"y":9.691},{"x":20.280,"y":9.676},{"x":20.295,"y":9.711},{"x":20.297,"y":9.811},{"x":20.290,"y":9.891},{"x":20.240,"y":9.941},{"x":20.233,"y":9.891},{"x":20.233,"y":9.771},{"x":20.265,"y":9.671},
      {"x":20.305,"y":9.656},{"x":20.340,"y":9.641},{"x":20.355,"y":9.676},{"x":20.357,"y":9.776},{"x":20.350,"y":9.856},{"x":20.300,"y":9.906},{"x":20.293,"y":9.856},{"x":20.293,"y":9.736},{"x":20.325,"y":9.636},
      {"x":20.37,"y":9.66},{"x":20.398,"y":9.73},{"x":20.412,"y":9.83},{"x":20.418,"y":9.93},{"x":20.415,"y":10.02},{"x":20.405,"y":10.1},{"x":20.392,"y":10.16},{"x":20.372,"y":10.165},{"x":20.36,"y":10.115},{"x":20.367,"y":10.045},{"x":20.387,"y":10.065},{"x":20.397,"y":10.145},{"x":20.388,"y":10.245},{"x":20.368,"y":10.315},
      {"x":20.348,"y":10.39},{"x":20.318,"y":10.47},{"x":20.283,"y":10.55},{"x":20.248,"y":10.63},{"x":20.213,"y":10.71},{"x":20.18,"y":10.78},{"x":20.15,"y":10.84},
      {"x":20.113,"y":10.895},{"x":20.078,"y":10.913},{"x":20.063,"y":10.875},{"x":20.061,"y":10.805},{"x":20.073,"y":10.765},{"x":20.108,"y":10.735},{"x":20.123,"y":10.760},{"x":20.125,"y":10.830},{"x":20.093,"y":10.915},
      {"x":20.053,"y":10.965},{"x":20.018,"y":10.983},{"x":20.003,"y":10.945},{"x":20.001,"y":10.875},{"x":20.013,"y":10.835},{"x":20.048,"y":10.805},{"x":20.063,"y":10.830},{"x":20.065,"y":10.900},{"x":20.033,"y":10.985},
      {"x":19.993,"y":11.035},{"x":19.958,"y":11.053},{"x":19.943,"y":11.015},{"x":19.941,"y":10.945},{"x":19.953,"y":10.905},{"x":19.988,"y":10.875},{"x":20.003,"y":10.900},{"x":20.005,"y":10.970},{"x":19.973,"y":11.055},
      {"x":19.933,"y":11.105},{"x":19.898,"y":11.123},{"x":19.883,"y":11.085},{"x":19.881,"y":11.015},{"x":19.893,"y":10.975},{"x":19.928,"y":10.945},{"x":19.943,"y":10.970},{"x":19.945,"y":11.040},{"x":19.913,"y":11.125},
      {"x":19.873,"y":11.175},{"x":19.838,"y":11.193},{"x":19.823,"y":11.155},{"x":19.821,"y":11.085},{"x":19.833,"y":11.045},{"x":19.868,"y":11.015},{"x":19.883,"y":11.040},{"x":19.885,"y":11.110},{"x":19.853,"y":11.195},
      {"x":19.83,"y":11.23},{"x":19.808,"y":11.225},{"x":19.787,"y":11.2},{"x":19.77,"y":11.16},
      {"x":19.761,"y":11.11},{"x":19.77,"y":11.031},{"x":19.789,"y":10.99},{"x":19.808,"y":11.001},{"x":19.817,"y":11.05},{"x":19.811,"y":11.099},{"x":19.795,"y":11.11},{"x":19.779,"y":11.069},
      {"x":19.773,"y":10.99},{"x":19.782,"y":10.911},{"x":19.801,"y":10.87},{"x":19.82,"y":10.881},{"x":19.829,"y":10.93},{"x":19.823,"y":10.979},{"x":19.807,"y":10.99},{"x":19.791,"y":10.949},
      {"x":19.795,"y":10.87},{"x":19.81,"y":10.80},{"x":19.83,"y":10.72},{"x":19.852,"y":10.64},{"x":19.874,"y":10.56},{"x":19.897,"y":10.48},{"x":19.922,"y":10.40},{"x":19.947,"y":10.32},{"x":19.972,"y":10.24},{"x":20.002,"y":10.16},{"x":20.032,"y":10.08},{"x":20.062,"y":10.0},{"x":20.09,"y":9.92},{"x":20.115,"y":9.83},

      {"x":20.148,"y":9.742},{"x":20.183,"y":9.727},{"x":20.198,"y":9.762},{"x":20.200,"y":9.862},{"x":20.193,"y":9.942},{"x":20.143,"y":9.992},{"x":20.136,"y":9.942},{"x":20.136,"y":9.822},{"x":20.168,"y":9.722},
      {"x":20.208,"y":9.682},{"x":20.243,"y":9.667},{"x":20.258,"y":9.702},{"x":20.260,"y":9.802},{"x":20.253,"y":9.882},{"x":20.203,"y":9.932},{"x":20.196,"y":9.882},{"x":20.196,"y":9.762},{"x":20.228,"y":9.662},
      {"x":20.268,"y":9.617},{"x":20.303,"y":9.602},{"x":20.318,"y":9.637},{"x":20.320,"y":9.737},{"x":20.313,"y":9.817},{"x":20.263,"y":9.867},{"x":20.256,"y":9.817},{"x":20.256,"y":9.697},{"x":20.288,"y":9.597},
      {"x":20.33,"y":9.59},{"x":20.37,"y":9.61},{"x":20.40,"y":9.67},{"x":20.418,"y":9.78},{"x":20.428,"y":9.90},{"x":20.425,"y":9.98},{"x":20.431,"y":10.02}
    ]
  },
  "hconcat": [
    {
      "width": 442,
      "height": 651,
      "title": {"text": "Grafico spostamento verticale-spostamento orizzontale con Hd=3m"},
      "layer": [
        {
          "data": {"name": "hd3"},
          "mark": {"type": "line", "color": "#0000ff", "strokeWidth": 1, "interpolate": "catmull-rom"},
          "encoding": {
            "x": {"field": "x", "type": "quantitative", "scale": {"domain": [19.8, 20.5], "nice": false, "zero": false},
              "axis": {"values": [19.8, 19.9, 20, 20.1, 20.2, 20.3, 20.4, 20.5], "format": "~g", "labelPadding": 20, "titlePadding": 21, "title": "Spostamento orizzontale (m)"}},
            "y": {"field": "y", "type": "quantitative", "scale": {"domain": [9.6, 11.2], "nice": false, "zero": false},
              "axis": {"values": [9.8, 10, 10.2, 10.4, 10.6, 10.8, 11, 11.2], "format": "~g", "labelPadding": 12, "titlePadding": 2, "title": "S\u00a0 p\u00a0 o\u00a0 s\u00a0 t\u00a0 a\u00a0 m\u00a0 e\u00a0 n\u00a0 t\u00a0 o\u00a0\u00a0\u00a0 v\u00a0 e\u00a0 r\u00a0 t\u00a0 i\u00a0 c\u00a0 a\u00a0 l\u00a0 e\u00a0\u00a0\u00a0 (\u00a0 m\u00a0 )"}},
            "order": {"value": null}
          }
        },
        {
          "data": {"values": [{"x": 19.8, "y": 9.6}]},
          "mark": {"type": "point", "opacity": 0},
          "encoding": {
            "x": {"field": "x", "type": "quantitative", "axis": {"orient": "top", "labels": false, "title": null, "values": [19.8, 19.9, 20, 20.1, 20.2, 20.3, 20.4, 20.5]}},
            "y": {"field": "y", "type": "quantitative", "axis": {"orient": "right", "labels": false, "title": null, "values": [9.8, 10, 10.2, 10.4, 10.6, 10.8, 11, 11.2]}}
          }
        }
      ],
      "resolve": {"axis": {"x": "independent", "y": "independent"}}
    },
    {
      "width": 473,
      "height": 652,
      "title": {"text": "Grafico spostamento verticale-spostamento orizzontale con Hd=5m"},
      "layer": [
        {
          "data": {"name": "hd5"},
          "mark": {"type": "line", "color": "#0000ff", "strokeWidth": 1, "interpolate": "catmull-rom"},
          "encoding": {
            "x": {"field": "x", "type": "quantitative", "scale": {"domain": [19.7, 20.6], "nice": false, "zero": false},
              "axis": {"values": [19.8, 19.9, 20, 20.1, 20.2, 20.3, 20.4, 20.5, 20.6], "format": "~g", "labelPadding": 20, "titlePadding": 21, "title": "Spostamento orizzontale (m)"}},
            "y": {"field": "y", "type": "quantitative", "scale": {"domain": [9.4, 11.4], "nice": false, "zero": false},
              "axis": {"values": [9.4, 9.6, 9.8, 10, 10.2, 10.4, 10.6, 10.8, 11, 11.2, 11.4], "format": "~g", "labelPadding": 12, "titlePadding": 2, "title": "S\u00a0 p\u00a0 o\u00a0 s\u00a0 t\u00a0 a\u00a0 m\u00a0 e\u00a0 n\u00a0 t\u00a0 o\u00a0\u00a0\u00a0 v\u00a0 e\u00a0 r\u00a0 t\u00a0 i\u00a0 c\u00a0 a\u00a0 l\u00a0 e\u00a0\u00a0\u00a0 (\u00a0 m\u00a0 )"}},
            "order": {"value": null}
          }
        },
        {
          "data": {"values": [{"x": 19.7, "y": 9.4}]},
          "mark": {"type": "point", "opacity": 0},
          "encoding": {
            "x": {"field": "x", "type": "quantitative", "axis": {"orient": "top", "labels": false, "title": null, "values": [19.8, 19.9, 20, 20.1, 20.2, 20.3, 20.4, 20.5, 20.6]}},
            "y": {"field": "y", "type": "quantitative", "axis": {"orient": "right", "labels": false, "title": null, "values": [9.4, 9.6, 9.8, 10, 10.2, 10.4, 10.6, 10.8, 11, 11.2, 11.4]}}
          }
        }
      ],
      "resolve": {"axis": {"x": "independent", "y": "independent"}}
    }
  ]
}
